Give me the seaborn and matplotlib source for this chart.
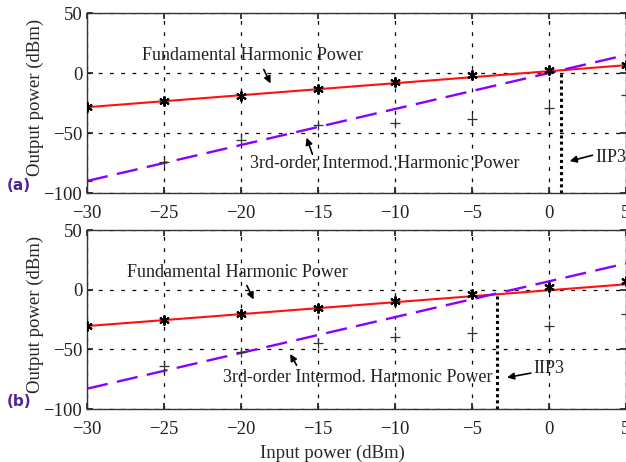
# Two-tone test: fundamental vs 3rd-order intermod power

import numpy as np
import pandas as pd

import matplotlib
matplotlib.use("Agg")
import matplotlib.pyplot as plt

import seaborn as sns

# Data

input_power = [-30, -25, -20, -15, -10, -5, 0, 5]

# panel (a)
fund_a = [-28.5, -23, -19, -13.3, -7.3, -2, 2.3, 6.5]
im3_a = [-90, -74.5, -56, -43, -42, -38.3, -29, -18.5]
fit_x = [-30, 5]
fund_fit_a = [-28.5, 6.5]
im3_fit_a = [-90, 15]
iip3_a = 0.8
iip3_level_a = 1.6

# panel (b)
fund_b = [-30.5, -25, -20.6, -15, -9.5, -4, 2.2, 7]
im3_b = [-83, -64, -52, -45, -40, -36, -30.6, -20]
fund_fit_b = [-30.5, 4.5]
im3_fit_b = [-83, 22]
iip3_b = -3.4
iip3_level_b = -3.6

sns.set_theme(style="white")
plt.rcParams["font.family"] = ["Liberation Serif", "DejaVu Serif"]

fig = plt.figure(figsize=(6.26, 4.62), dpi=100)
fig.patch.set_facecolor("white")

ax_a = fig.add_axes([87 / 626, 1 - 193 / 462, 1 - 87 / 626, 180 / 462])
ax_b = fig.add_axes([87 / 626, 1 - 409 / 462, 1 - 87 / 626, 179 / 462])

panels = [
    (ax_a, fund_a, im3_a, fund_fit_a, im3_fit_a, iip3_a, iip3_level_a, "(a)"),
    (ax_b, fund_b, im3_b, fund_fit_b, im3_fit_b, iip3_b, iip3_level_b, "(b)"),
]

for ax, fund, im3, ffit, ifit, iip3, iip3_y, tag in panels:
    ax.set_facecolor("white")
    ax.set_xlim(-30, 5)
    ax.set_ylim(-100, 50)
    ax.set_xticks(range(-30, 6, 5))
    ax.set_yticks([-100, -50, 0, 50])
    ax.grid(True, color="black", linestyle=(0, (3, 6)), linewidth=0.9)
    ax.set_axisbelow(True)

    sns.lineplot(x=fit_x, y=ffit, ax=ax, color="#ff1010", linewidth=1.5)
    sns.lineplot(x=fit_x, y=ifit, ax=ax, color="#8a00ff", linewidth=1.7,
                 linestyle=(0, (9, 4)))
    sns.scatterplot(x=input_power, y=fund, ax=ax, marker=(6, 2, 0), s=40,
                    color="black", linewidth=1.5, zorder=5)
    if tag == "(a)":
        xs, ys = input_power, im3
    else:
        xs, ys = input_power[1:], im3[1:]
    sns.scatterplot(x=xs, y=ys, ax=ax, marker="+", s=60, color="#333333",
                    linewidth=0.9, zorder=5)
    ax.plot([iip3, iip3], [-100, iip3_y], color="black", linestyle=(0, (1, 1)),
            linewidth=2.2)

    ax.tick_params(axis="x", pad=9)
    ax.tick_params(direction="in", length=4, labelsize=13.5, colors="#222222",
                   top=True, right=True, left=True, bottom=True)
    for s in ax.spines.values():
        s.set_color("#333333")
        s.set_linewidth(1.0)
    ax.set_ylabel("Output power (dBm)", fontsize=13.5)
    ax.yaxis.set_label_coords(-0.08, 0.53)
    ax.set_xlabel("")
    ax.text(-0.148, 0.0, tag, transform=ax.transAxes, color="#4e2496",
            fontsize=11, fontweight="bold", family="DejaVu Sans", va="bottom")

arrow = dict(arrowstyle="-|>", color="black", lw=1.2, mutation_scale=10)

# panel (a) labels
ax_a.text(-26.4, 14.2, "Fundamental Harmonic Power", fontsize=13, color="#222222",
          va="center")
ax_a.annotate("", xy=(-18.0, -10.8), xytext=(-18.6, 5), arrowprops=arrow)
ax_a.text(-19.4, -75, "3rd-order Intermod. Harmonic Power", fontsize=13,
          color="#222222", va="center")
ax_a.annotate("", xy=(-15.8, -51.7), xytext=(-15.3, -70), arrowprops=arrow)
ax_a.text(3.0, -70.8, "IIP3", fontsize=13, color="#222222", va="center")
ax_a.annotate("", xy=(1.17, -74), xytext=(3.0, -68), arrowprops=arrow)

# panel (b) labels
ax_b.text(-27.4, 14.8, "Fundamental Harmonic Power", fontsize=13, color="#222222",
          va="center")
ax_b.annotate("", xy=(-19.1, -10.3), xytext=(-19.7, 5.6), arrowprops=arrow)
ax_b.text(-21.2, -73.2, "3rd-order Intermod. Harmonic Power", fontsize=13,
          color="#222222", va="center")
ax_b.annotate("", xy=(-16.9, -51.9), xytext=(-16.3, -65.3), arrowprops=arrow)
ax_b.text(-1.04, -66.4, "IIP3", fontsize=13, color="#222222", va="center")
ax_b.annotate("", xy=(-2.9, -74), xytext=(-1.0, -69.5), arrowprops=arrow)

ax_b.set_xlabel("Input power (dBm)", fontsize=13.5)
ax_b.xaxis.set_label_coords(0.456, -0.2)

plt.savefig("out.png", dpi=100, facecolor="white")
plt.close()
